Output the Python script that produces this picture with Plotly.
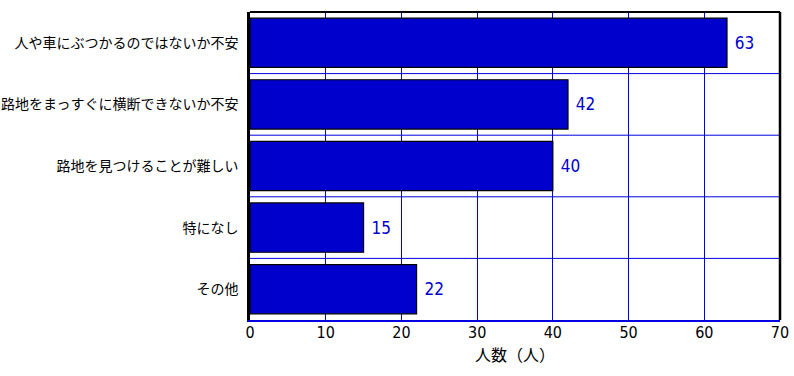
import plotly.graph_objects as go

categories = ["人や車にぶつかるのではないか不安", "路地をまっすぐに横断できないか不安",
              "路地を見つけることが難しい", "特になし", "その他"]
values = [63, 42, 40, 15, 22]
x_ticks = [0, 10, 20, 30, 40, 50, 60, 70]
x_title = "人数（人）"

BLUE = "#0000CC"
GRID = "#0000E0"
num_font = "DejaVu Sans Condensed, Liberation Sans Narrow, Noto Sans CJK JP"

fig = go.Figure(go.Bar(
    y=categories, x=values, orientation="h",
    marker=dict(color=BLUE, line=dict(color="black", width=1.2)),
    width=0.8,
    text=[str(v) for v in values], texttemplate=" %{text}", textposition="outside",
    textfont=dict(color=BLUE, size=17, family=num_font),
    cliponaxis=False,
))

shapes = []
for i in range(len(categories) - 1):
    shapes.append(dict(type="line", xref="paper", x0=0, x1=1, yref="y", y0=i + 0.5, y1=i + 0.5,
                       line=dict(color=GRID, width=1), layer="below"))
shapes.append(dict(type="line", xref="paper", x0=0, x1=1, yref="paper", y0=1, y1=1,
                   line=dict(color="black", width=2)))
shapes.append(dict(type="line", xref="paper", x0=1, x1=1, yref="paper", y0=0, y1=1,
                   line=dict(color="black", width=2.5)))

fig.update_layout(
    width=794, height=376,
    margin=dict(l=250, r=14, t=12, b=56, autoexpand=False),
    paper_bgcolor="white", plot_bgcolor="white",
    showlegend=False,
    bargap=0.2,
    shapes=shapes,
    xaxis=dict(range=[0, 70], tickvals=x_ticks, showgrid=True, gridcolor=GRID, gridwidth=1,
               showline=True, linecolor=GRID, linewidth=1.5, zeroline=False, automargin=False,
               ticks="", ticklabelstandoff=-3,
               tickfont=dict(size=16, family=num_font, color="black"),
               title=dict(text=x_title, font=dict(size=16, family="Noto Sans CJK JP", color="black"),
                          standoff=7)),
    yaxis=dict(autorange="reversed", showgrid=False, showline=True, linecolor="black", linewidth=2.5,
               ticks="", ticklabelstandoff=6, automargin=False,
               tickfont=dict(size=14, family="Noto Sans CJK JP", color="black")),
)

fig.write_html("out.html", config={"displayModeBar": False},
               post_script="document.body.style.margin='0';document.body.style.overflow='hidden';")
